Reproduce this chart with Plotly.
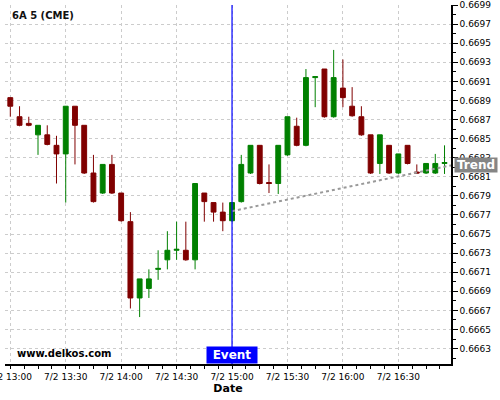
import pandas as pd
import plotly.graph_objects as go

# 5-minute candles, 6A (AUD futures), 2 July
times = pd.date_range("2024-07-02 13:00", periods=48, freq="5min")
opens = [0.66893, 0.66873, 0.66866, 0.66854, 0.66854, 0.66843, 0.66834, 0.66884,
         0.66864, 0.66814, 0.66793, 0.66823, 0.66793, 0.66763, 0.66683, 0.66693,
         0.66713, 0.66723, 0.66733, 0.66733, 0.66723, 0.66793, 0.66783, 0.66773,
         0.66764, 0.66784, 0.66814, 0.66843, 0.66804, 0.66803, 0.66833, 0.66863,
         0.66843, 0.66914, 0.66923, 0.66873, 0.66903, 0.66884, 0.66873, 0.66854,
         0.66824, 0.66843, 0.66814, 0.66843, 0.66815, 0.66814, 0.66814, 0.66824]
highs = [0.66893, 0.66884, 0.66873, 0.66864, 0.66864, 0.66853, 0.66884, 0.66884,
         0.66864, 0.66833, 0.66823, 0.66833, 0.66793, 0.66773, 0.66703, 0.66713,
         0.66733, 0.66753, 0.66763, 0.66763, 0.66803, 0.66793, 0.66783, 0.66783,
         0.66783, 0.66833, 0.66843, 0.66843, 0.66823, 0.66843, 0.66873, 0.66872,
         0.66923, 0.66915, 0.66923, 0.66943, 0.66933, 0.66904, 0.66884, 0.66854,
         0.66854, 0.66843, 0.66834, 0.66843, 0.66823, 0.66824, 0.66834, 0.66843]
lows = [0.66873, 0.66863, 0.66863, 0.66833, 0.66843, 0.66803, 0.66783, 0.66823,
        0.66813, 0.66783, 0.66792, 0.66792, 0.66763, 0.66672, 0.66663, 0.66683,
        0.66702, 0.66713, 0.66723, 0.66722, 0.66713, 0.66763, 0.66763, 0.66753,
        0.66763, 0.66783, 0.66813, 0.66802, 0.66793, 0.66792, 0.66832, 0.66842,
        0.66842, 0.66883, 0.66872, 0.66872, 0.66883, 0.66873, 0.66853, 0.66813,
        0.66813, 0.66813, 0.66813, 0.66823, 0.66813, 0.66813, 0.66813, 0.66813]
closes = [0.66884, 0.66864, 0.66864, 0.66864, 0.66844, 0.66834, 0.66884, 0.66864,
          0.66814, 0.66784, 0.66823, 0.66793, 0.66764, 0.66683, 0.66703, 0.66703,
          0.66714, 0.66733, 0.66734, 0.66723, 0.66803, 0.66784, 0.66773, 0.66764,
          0.66783, 0.66823, 0.66843, 0.66803, 0.66803, 0.66843, 0.66873, 0.66843,
          0.66914, 0.66915, 0.66873, 0.66914, 0.66893, 0.66874, 0.66854, 0.66814,
          0.66854, 0.66814, 0.66834, 0.66824, 0.66814, 0.66824, 0.66824, 0.66825]

event_time = "2024-07-02 15:00"
trend_x = ["2024-07-02 15:00", "2024-07-02 16:58:30"]
trend_y = [0.66774, 0.66822]

x_range = ["2024-07-02 12:57:08", "2024-07-02 16:58:30"]
y_range = [0.666138, 0.669901]

FONT = "DejaVu Sans"

fig = go.Figure()

# trend (gray dotted) under the candles
fig.add_trace(go.Scatter(
    x=trend_x, y=trend_y, mode="lines",
    line=dict(color="#999999", width=2, dash="dot"),
    hoverinfo="skip", showlegend=False
))

fig.add_trace(go.Candlestick(
    x=times, open=opens, high=highs, low=lows, close=closes,
    increasing=dict(line=dict(color="#008000", width=1), fillcolor="#008000"),
    decreasing=dict(line=dict(color="#800000", width=1), fillcolor="#800000"),
    whiskerwidth=0,
    showlegend=False
))

# event line
fig.add_shape(type="line", x0=event_time, x1=event_time, xref="x",
              y0=0, y1=1, yref="paper",
              line=dict(color="#0000ff", width=1.2), layer="above")

fig.add_annotation(x=event_time, xref="x", y=0, yref="paper",
                   yanchor="bottom", text="<b>Event</b>", showarrow=False,
                   bgcolor="#0000ff", borderpad=1, width=48, height=14,
                   font=dict(family=FONT, size=12, color="white"))

fig.add_annotation(x=1, xref="paper", xanchor="left", xshift=3,
                   y=trend_y[-1], yref="y", text="<b>Trend</b>", showarrow=False,
                   bgcolor="#858585", borderpad=1, width=40, height=12,
                   font=dict(family=FONT, size=12, color="white"))

fig.add_annotation(x=0.011, xref="paper", xanchor="left", y=0.97, yref="paper",
                   yanchor="middle", text="<b>6A 5 (CME)</b>", showarrow=False,
                   font=dict(family=FONT, size=10, color="#111111"))

fig.add_annotation(x=0.0224, xref="paper", xanchor="left", y=0.029, yref="paper",
                   yanchor="middle", text="<b>www.delkos.com</b>", showarrow=False,
                   font=dict(family=FONT, size=10, color="#000000"))

fig.update_layout(
    width=500, height=400,
    margin=dict(l=5, r=49, t=5, b=36),
    paper_bgcolor="white", plot_bgcolor="white",
    font=dict(family=FONT, size=9, color="#000000"),
    boxgap=0.25,
    xaxis=dict(
        type="date", range=x_range, automargin=False,
        rangeslider=dict(visible=False),
        tickformat="%-m/%-d %H:%M", dtick=30 * 60 * 1000,
        tick0="2024-07-02 13:00",
        ticks="outside", ticklen=3, tickcolor="#000000",
        ticklabeloverflow="allow",
        showline=True, linecolor="#000000", linewidth=1.5,
        showgrid=True, gridcolor="#cccccc", griddash="3px,3px", gridwidth=1,
        minor=dict(dtick=450000, ticks="outside", ticklen=3, tickcolor="#000000",
                   showgrid=False),
        title=dict(text="<b>Date</b>", font=dict(family=FONT, size=11), standoff=4),
        zeroline=False,
    ),
    yaxis=dict(
        side="right", range=y_range, automargin=False,
        tick0=0.6663, dtick=0.0002, tickformat=".4f",
        ticks="outside", ticklen=5, tickcolor="#000000",
        ticklabeloverflow="allow",
        showline=True, linecolor="#000000", linewidth=1.5,
        showgrid=True, gridcolor="#cccccc", griddash="3px,3px", gridwidth=1,
        minor=dict(dtick=0.0001, ticks="outside", ticklen=3, tickcolor="#000000",
                   showgrid=False),
        zeroline=False,
    ),
)

# the page's default 8px body margin would push the figure off the window
fig.write_html("out.html", config={"displayModeBar": False},
               post_script="document.body.style.margin='0px';")
